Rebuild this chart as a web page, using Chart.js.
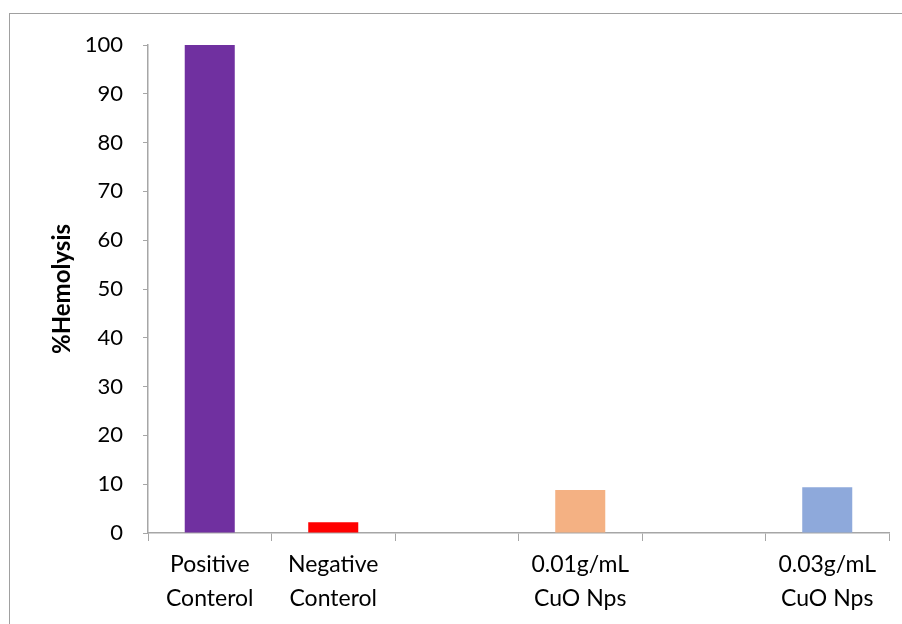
<!DOCTYPE html>
<html>
<head>
<meta charset="utf-8">
<script src="https://cdn.jsdelivr.net/npm/chart.js@4/dist/chart.umd.min.js"></script>
<style>
  html, body { margin: 0; padding: 0; background: #ffffff; }
  #wrap { position: relative; width: 902px; height: 624px; }
  canvas { display: block; }
</style>
</head>
<body>
<div id="wrap"><canvas id="chart" width="902" height="624"></canvas></div>
<script>
// Hemolysis test: categories (blank slots keep the spacing between groups)
const categories = [
  ['Positive', 'Conterol'],
  ['Negative', 'Conterol'],
  '',
  ['0.01g/mL', 'CuO Nps'],
  '',
  ['0.03g/mL', 'CuO Nps']
];
const hemolysis = [100, 2.2, null, 8.8, null, 9.4];
const barColors = ['#7030A0', '#FF0000', '#FFFFFF', '#F4B183', '#FFFFFF', '#8EA9DB'];
const yTicks = [0, 10, 20, 30, 40, 50, 60, 70, 80, 90, 100];

const axisGray = '#A6A6A6';
const fontFamily = 'Lato, "Noto Sans", sans-serif';

// Thin frame around the whole chart, opening past the right and bottom edges
const framePlugin = {
  id: 'frame',
  beforeDraw(chart) {
    const ctx = chart.ctx;
    ctx.save();
    ctx.fillStyle = '#ffffff';
    ctx.fillRect(0, 0, chart.width, chart.height);
    ctx.strokeStyle = '#A0A0A0';
    ctx.lineWidth = 1;
    ctx.strokeRect(9.5, 13.5, 1200, 1200);
    ctx.restore();
  }
};

new Chart(document.getElementById('chart'), {
  type: 'bar',
  data: {
    labels: categories,
    datasets: [{
      data: hemolysis,
      backgroundColor: barColors,
      borderWidth: 0,
      barPercentage: 0.405,
      categoryPercentage: 1
    }]
  },
  options: {
    responsive: false,
    devicePixelRatio: 1,
    animation: false,
    layout: { padding: { top: 45, right: 13, bottom: 0, left: 0 } },
    plugins: {
      legend: { display: false },
      tooltip: { enabled: false }
    },
    scales: {
      x: {
        offset: true,
        grid: {
          display: true,
          offset: true,
          drawOnChartArea: false,
          drawTicks: true,
          tickLength: 8,
          color: axisGray,
          lineWidth: 1
        },
        border: { display: true, color: axisGray, width: 1.5 },
        ticks: {
          color: '#000000',
          padding: 7,
          maxRotation: 0,
          autoSkip: false,
          font: { family: fontFamily, size: 23, lineHeight: 1.48 }
        },
        afterFit(scale) { scale.height = 91; }
      },
      y: {
        min: 0,
        max: 100,
        afterBuildTicks(scale) { scale.ticks = yTicks.map(v => ({ value: v })); },
        grid: {
          display: true,
          drawOnChartArea: false,
          drawTicks: true,
          tickLength: 5,
          color: axisGray,
          lineWidth: 1
        },
        border: { display: true, color: axisGray, width: 1.5 },
        ticks: {
          color: '#000000',
          padding: 20,
          font: { family: fontFamily, size: 22 }
        },
        title: {
          display: true,
          text: '%Hemolysis',
          color: '#000000',
          padding: { top: 48, bottom: 0 },
          font: { family: fontFamily, size: 24, weight: 'bold', lineHeight: 1.2 }
        },
        afterFit(scale) { scale.width = 148; }
      }
    }
  },
  plugins: [framePlugin]
});
</script>
</body>
</html>
